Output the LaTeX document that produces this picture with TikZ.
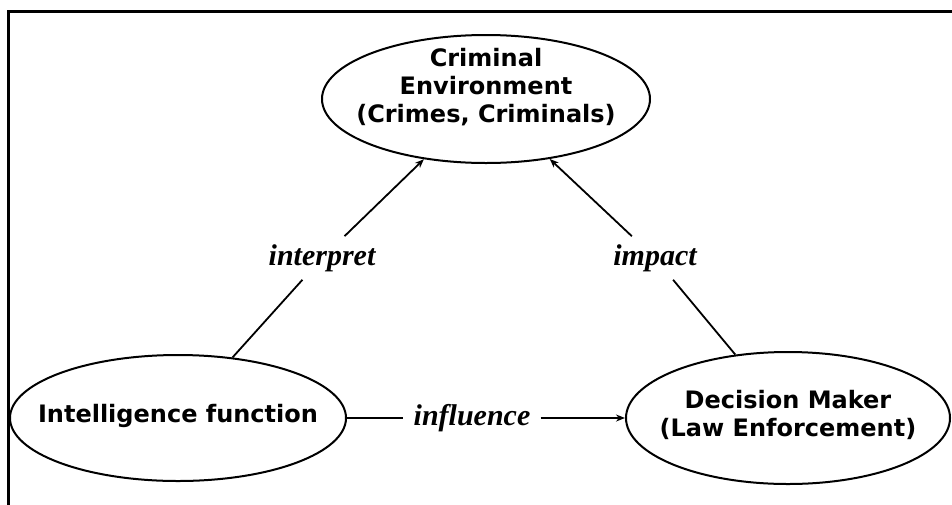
\documentclass[tikz,border=0pt]{standalone}
\usepackage{fontspec}
\setmainfont{DejaVu Sans}
\newfontfamily\relfont{Liberation Serif}
\usetikzlibrary{positioning}
\usetikzlibrary{shapes.geometric}
\usetikzlibrary{arrows.meta}

\tikzset{
  actor/.style={ellipse, draw, line width=2pt, inner sep=0pt},
  actortext/.style={font=\bfseries\fontsize{24}{28}\selectfont, align=center},
  rel/.style={font=\relfont\bfseries\itshape\fontsize{30}{32}\selectfont, inner sep=8pt},
  link/.style={line width=1.8pt},
  arr/.style={link, -{Stealth[length=9pt,width=7pt]}}
}

\begin{document}
\begin{tikzpicture}[x=1pt,y=-1pt]

\useasboundingbox (0,0) rectangle (952,504);
\clip (0,0) rectangle (952,504);

% frame
\draw[line width=3pt] (8,11) rectangle (970,520);

% the three actors
\node[actor, minimum width=328pt, minimum height=128pt,
  label={[actortext, yshift=12pt]center:{Criminal\\Environment\\(Crimes, Criminals)}}]
  (crim) at (486,99) {};
\node[actor, minimum width=336pt, minimum height=126pt,
  label={[actortext, yshift=2pt]center:{Intelligence function}}]
  (intel) at (178,418) {};
\node[actor, minimum width=324pt, minimum height=132pt,
  label={[actortext, yshift=3pt]center:{Decision Maker\\(Law Enforcement)}}]
  (dec) at (788,418) {};

% relation labels
\node[rel] (interp) at (322,258) {interpret};
\node[rel] (imp) at (655,258) {impact};
\node[rel, inner xsep=10pt] (infl) at (472,418) {influence};

% connectors
\draw[link] (intel) -- (interp);
\draw[arr] (interp) -- (crim);
\draw[link] (dec) -- (imp);
\draw[arr] (imp) -- (crim);
\draw[link] (intel) -- (infl);
\draw[arr] (infl) -- (dec);

\end{tikzpicture}
\end{document}
